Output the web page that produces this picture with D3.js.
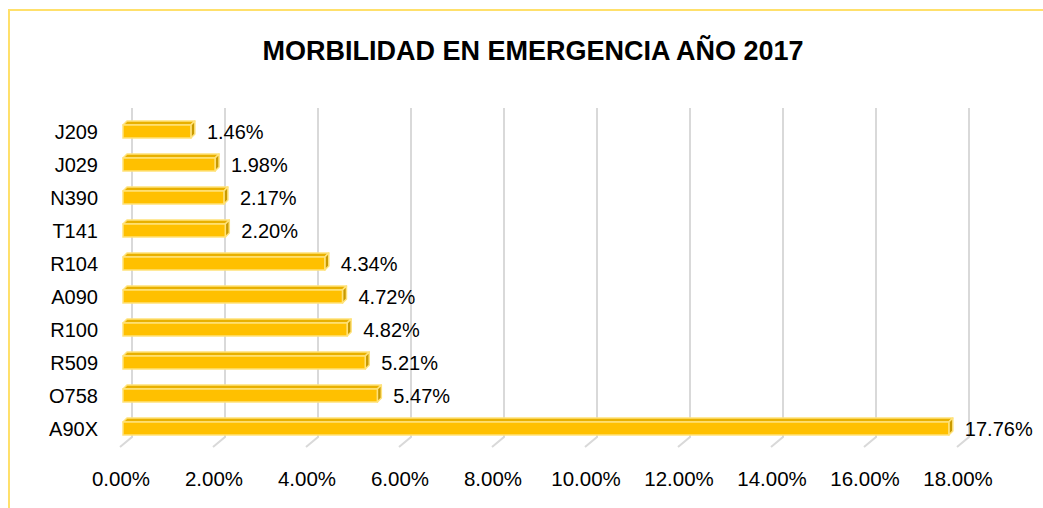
<!DOCTYPE html>
<html>
<head>
<meta charset="utf-8">
<script src="https://cdn.jsdelivr.net/npm/d3@7"></script>
<style>
  body { margin: 0; background: #fff; }
  svg text { font-family: "Liberation Sans", Arial, sans-serif; fill: #000; }
</style>
</head>
<body>
<div id="chart"></div>
<script>
// chart data
var categories = ["J209", "J029", "N390", "T141", "R104", "A090", "R100", "R509", "O758", "A90X"];
var values = [1.46, 1.98, 2.17, 2.20, 4.34, 4.72, 4.82, 5.21, 5.47, 17.76];
var ticks = [0, 2, 4, 6, 8, 10, 12, 14, 16, 18];
var title = "MORBILIDAD EN EMERGENCIA AÑO 2017";

var W = 1043, H = 508;
var svg = d3.select("#chart").append("svg")
    .attr("width", W)
    .attr("height", H);

// chart border (only top/left visible)
svg.append("rect")
    .attr("x", 9).attr("y", 10)
    .attr("width", 1060).attr("height", 520)
    .attr("fill", "#fff")
    .attr("stroke", "#FFE06B")
    .attr("stroke-width", 2);

svg.append("text")
    .attr("x", 533).attr("y", 60)
    .attr("text-anchor", "middle")
    .style("font-size", "27px")
    .style("font-weight", "bold")
    .text(title);

var x = d3.scaleLinear().domain([0, 18]).range([123, 960]);
var y = d3.scalePoint().domain(categories).range([131.5, 428.5]);

var depthX = 9, gridTop = 108, gridBottom = 437;

// gridlines on back wall + floor slant
var grid = svg.append("g");
ticks.forEach(function(t){
    var gx = x(t) + depthX;
    grid.append("path")
        .attr("d", "M" + gx + "," + gridTop + "L" + gx + "," + gridBottom + "L" + (gx - 12) + "," + (gridBottom + 10))
        .attr("fill", "none")
        .attr("stroke", "#d9d9d9")
        .attr("stroke-width", 2);
    svg.append("text")
        .attr("x", x(t) - 2)
        .attr("y", 486)
        .attr("text-anchor", "middle")
        .style("font-size", "20.5px")
        .text(t.toFixed(2) + "%");
});

// category labels
categories.forEach(function(c){
    svg.append("text")
        .attr("x", 98)
        .attr("y", y(c) + 7.5)
        .attr("text-anchor", "end")
        .style("font-size", "20px")
        .text(c);
});

// 3d bars
var bh = 13, dd = 4;
var bars = svg.append("g");
categories.forEach(function(c, i){
    var x0 = x(0), x1 = x(values[i]);
    var top = y(c) - bh / 2, bot = y(c) + bh / 2;
    // top face
    bars.append("path")
        .attr("d", "M" + x0 + "," + top + "L" + (x0 + dd) + "," + (top - dd) + "L" + (x1 + dd) + "," + (top - dd) + "L" + x1 + "," + top + "Z")
        .attr("fill", "#E8B000")
        .attr("stroke", "#FFE27A").attr("stroke-width", 1.5).attr("stroke-linejoin", "round");
    // side face
    bars.append("path")
        .attr("d", "M" + x1 + "," + top + "L" + (x1 + dd) + "," + (top - dd) + "L" + (x1 + dd) + "," + (bot - dd) + "L" + x1 + "," + bot + "Z")
        .attr("fill", "#C99A00")
        .attr("stroke", "#FFE27A").attr("stroke-width", 1.5).attr("stroke-linejoin", "round");
    // front face
    bars.append("rect")
        .attr("x", x0).attr("y", top)
        .attr("width", x1 - x0).attr("height", bh)
        .attr("fill", "#FFC000")
        .attr("stroke", "#FFE27A").attr("stroke-width", 1.5);
    // value label
    svg.append("text")
        .attr("x", x1 + 16)
        .attr("y", y(c) + 7.5)
        .style("font-size", "20px")
        .text(values[i].toFixed(2) + "%");
});
</script>
</body>
</html>
